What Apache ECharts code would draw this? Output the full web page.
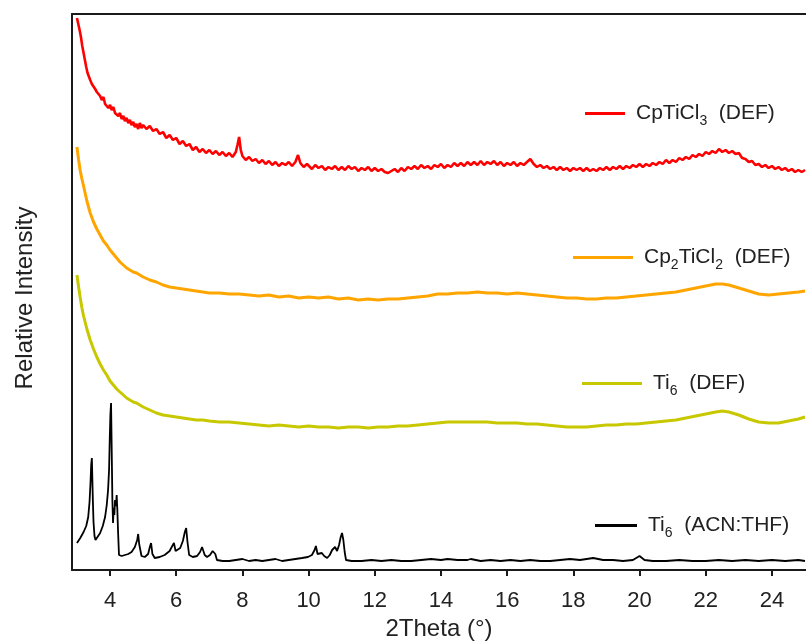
<!DOCTYPE html>
<html>
<head>
<meta charset="utf-8">
<script src="https://cdn.jsdelivr.net/npm/echarts@6/dist/echarts.min.js"></script>
<style>
html,body{margin:0;padding:0;background:#fff;}
#chart{width:806px;height:641px;}
</style>
</head>
<body>
<div id="chart"></div>
<script>
// Data (x = 2Theta, y = relative intensity in arbitrary offset units)
const xTicks = [4, 6, 8, 10, 12, 14, 16, 18, 20, 22, 24];
const seriesNames = ['CpTiCl3 (DEF)', 'Cp2TiCl2 (DEF)', 'Ti6 (DEF)', 'Ti6 (ACN:THF)'];

const redData = [
[3.00,552],[3.04,546],[3.08,540],[3.12,533],[3.16,524],[3.20,517],[3.24,510],[3.28,503],[3.32,497],[3.36,499],
[3.40,490],[3.45,486],[3.50,484],[3.55,481],[3.60,478],[3.65,480],[3.70,474],[3.75,470],[3.80,473],[3.85,466],
[3.90,468],[3.95,462],[4.00,465],[4.05,460],[4.10,463],[4.15,457],[4.20,459],[4.25,454],[4.30,457],[4.35,451],
[4.40,454],[4.45,449],[4.50,452],[4.55,447],[4.60,450],[4.65,445],[4.70,448],[4.75,443],[4.80,446],[4.85,441],
[4.90,447],[4.95,442],[5.00,445],[5.10,441],[5.20,444],[5.30,439],[5.40,441],[5.50,436],[5.60,438],[5.70,432],
[5.80,435],[5.90,430],[6.00,432],[6.10,426],[6.20,429],[6.30,424],[6.40,426],[6.50,420],[6.60,423],[6.70,418],
[6.80,421],[6.90,417],[7.00,420],[7.10,416],[7.20,419],[7.30,415],[7.40,418],[7.50,414],[7.60,417],[7.70,413],
[7.80,418],[7.85,425],[7.90,433],[7.95,420],[8.00,414],[8.10,410],[8.20,413],[8.30,409],[8.40,411],[8.50,407],
[8.60,410],[8.70,406],[8.80,409],[8.90,405],[9.00,408],[9.10,404],[9.20,407],[9.30,405],[9.40,408],[9.50,404],
[9.60,408],[9.68,415],[9.75,407],[9.85,403],[9.95,406],
[10.0,404],[10.1,401],[10.2,405],[10.3,402],[10.4,404],[10.5,400],[10.6,403],[10.7,401],[10.8,404],[10.9,400],
[11.0,403],[11.1,400],[11.2,404],[11.3,401],[11.4,403],[11.5,399],[11.6,402],[11.7,400],[11.8,403],[11.9,399],
[12.0,402],[12.1,399],[12.2,401],[12.3,398],[12.4,397],[12.45,395],[12.5,399],[12.6,401],[12.7,398],[12.8,402],
[12.9,399],[13.0,403],[13.1,401],[13.2,404],[13.3,401],[13.4,405],[13.5,402],[13.6,404],[13.7,401],[13.8,405],
[13.9,403],[14.0,406],[14.1,402],[14.2,405],[14.3,403],[14.4,407],[14.5,404],[14.6,407],[14.7,404],[14.8,408],
[14.9,405],[15.0,408],[15.1,405],[15.2,409],[15.3,405],[15.4,408],[15.5,406],[15.6,409],[15.7,405],[15.8,408],
[15.9,404],[16.0,407],[16.1,405],[16.2,408],[16.3,404],[16.4,407],[16.5,405],[16.6,408],[16.7,411],[16.8,406],
[16.9,403],[17.0,405],[17.1,402],[17.2,404],[17.3,401],[17.4,403],[17.5,400],[17.6,403],[17.7,400],[17.8,402],
[17.9,399],[18.0,402],[18.1,400],[18.2,402],[18.3,399],[18.4,402],[18.5,399],[18.6,401],[18.7,399],[18.8,402],
[18.9,400],[19.0,403],[19.1,400],[19.2,403],[19.3,401],[19.4,404],[19.5,401],[19.6,404],[19.7,402],[19.8,405],
[19.9,403],[20.0,406],[20.1,403],[20.2,406],[20.3,404],[20.4,407],[20.5,405],[20.6,408],[20.7,406],[20.8,410],
[20.9,407],[21.0,410],[21.1,408],[21.2,412],[21.3,410],[21.4,413],[21.5,411],[21.6,415],[21.7,413],[21.8,416],
[21.9,414],[22.0,418],[22.1,416],[22.2,419],[22.3,417],[22.4,421],[22.5,418],[22.6,420],[22.7,417],[22.8,419],
[22.9,416],[23.0,417],[23.1,412],[23.2,411],[23.3,408],[23.4,409],[23.5,405],[23.6,406],[23.7,403],[23.8,405],
[23.9,402],[24.0,404],[24.1,401],[24.2,403],[24.3,400],[24.4,402],[24.5,399],[24.6,401],[24.7,398],[24.8,400],
[24.9,398],[25.0,400]
];

const orangeData = [
[3.00,423],[3.05,410],[3.10,399],[3.15,391],[3.20,384],[3.30,369],[3.40,357],[3.50,348],[3.60,341],[3.70,335],
[3.80,329],[3.90,325],[4.00,320],[4.10,316],[4.20,312],[4.30,308],[4.40,305],[4.50,302],[4.60,300],[4.70,298],
[4.80,297],[4.90,295],[5.00,293],[5.20,290],[5.40,288],[5.60,285],[5.80,283],[6.00,282],[6.20,281],[6.40,280],
[6.60,279],[6.80,278],[7.00,277],[7.30,277],[7.60,276],[7.90,276],[8.20,275],[8.50,274],[8.80,275],[9.10,273],
[9.40,274],[9.70,272],[10.0,273],[10.3,272],[10.6,273],[10.9,271],[11.2,272],[11.5,270],[11.8,271],[12.1,270],
[12.4,271],[12.7,271],[13.0,272],[13.3,273],[13.6,274],[13.9,276],[14.2,276],[14.5,277],[14.8,277],[15.1,278],
[15.4,277],[15.7,277],[16.0,276],[16.3,277],[16.6,276],[16.9,275],[17.2,274],[17.5,273],[17.8,272],[18.1,272],
[18.4,271],[18.7,271],[19.0,272],[19.3,272],[19.6,273],[19.9,274],[20.2,275],[20.5,276],[20.8,277],[21.1,278],
[21.4,280],[21.7,282],[22.0,284],[22.3,286],[22.5,286],[22.7,285],[23.0,282],[23.3,279],[23.6,276],[23.9,275],
[24.2,276],[24.5,277],[24.8,278],[25.0,279]
];

const yellowData = [
[3.00,295],[3.05,283],[3.10,272],[3.15,262],[3.20,254],[3.30,241],[3.40,230],[3.50,221],[3.60,213],[3.70,206],
[3.80,200],[3.90,195],[4.00,189],[4.10,185],[4.20,181],[4.30,178],[4.40,175],[4.50,172],[4.60,170],[4.70,168],
[4.80,167],[4.90,165],[5.00,163],[5.20,160],[5.40,157],[5.60,155],[5.80,154],[6.00,153],[6.20,152],[6.40,151],
[6.60,150],[6.80,150],[7.00,149],[7.30,148],[7.60,148],[7.90,147],[8.20,146],[8.50,145],[8.80,144],[9.10,145],
[9.40,144],[9.70,143],[10.0,144],[10.3,143],[10.6,143],[10.9,142],[11.2,143],[11.5,143],[11.8,142],[12.1,143],
[12.4,143],[12.7,144],[13.0,144],[13.3,145],[13.6,146],[13.9,147],[14.2,148],[14.5,148],[14.8,148],[15.1,148],
[15.4,148],[15.7,147],[16.0,147],[16.3,147],[16.6,146],[16.9,146],[17.2,145],[17.5,144],[17.8,143],[18.1,143],
[18.4,143],[18.7,144],[19.0,145],[19.3,145],[19.6,146],[19.9,146],[20.2,147],[20.5,148],[20.8,149],[21.1,150],
[21.4,152],[21.7,154],[22.0,156],[22.3,158],[22.5,159],[22.7,158],[23.0,155],[23.3,151],[23.6,148],[23.9,147],
[24.2,147],[24.5,149],[24.8,151],[25.0,153]
];

const blackData = [
[3.00,27],[3.10,32],[3.20,38],[3.28,44],[3.34,53],[3.38,68],[3.41,88],[3.43,105],[3.45,112],[3.46,98],
[3.48,70],[3.50,48],[3.53,34],[3.56,30],[3.62,32],[3.70,37],[3.78,44],[3.85,53],[3.90,65],[3.94,80],
[3.97,100],[3.99,130],[4.01,155],[4.03,167],[4.05,120],[4.07,70],[4.09,47],[4.11,62],[4.13,55],[4.15,70],
[4.18,64],[4.20,75],[4.22,60],[4.24,40],[4.27,15],[4.35,14],[4.45,15],[4.55,16],[4.65,18],[4.75,23],
[4.82,30],[4.85,36],[4.88,26],[4.95,14],[5.05,13],[5.15,16],[5.21,24],[5.24,27],[5.28,16],[5.35,12],
[5.50,13],[5.65,15],[5.80,19],[5.88,24],[5.93,27],[5.98,19],[6.03,17],[6.12,22],[6.20,29],[6.26,38],
[6.30,42],[6.34,28],[6.39,15],[6.50,13],[6.63,14],[6.72,18],[6.78,23],[6.81,23],[6.86,15],[6.93,13],
[7.02,15],[7.10,19],[7.14,21],[7.18,16],[7.23,10],[7.40,9],[7.60,9],[7.80,10],[8.00,11],[8.20,9],
[8.40,10],[8.60,9],[8.80,10],[9.00,11],[9.20,9],[9.40,10],[9.60,11],[9.80,12],[9.98,13],[10.10,15],
[10.18,20],[10.22,24],[10.27,16],[10.33,14],[10.40,17],[10.47,14],[10.56,12],[10.64,15],[10.71,20],[10.76,22],
[10.80,23],[10.86,19],[10.92,25],[10.97,33],[11.01,37],[11.05,30],[11.09,18],[11.13,10],[11.3,9],[11.6,9],
[11.9,10],[12.2,9],[12.5,10],[12.8,9],[13.1,9],[13.4,10],[13.7,11],[14.0,10],[14.2,11],[14.5,10],
[14.8,10],[14.9,11],[15.2,9],[15.5,10],[15.8,9],[16.1,10],[16.4,9],[16.7,10],[17.0,9],[17.3,9],
[17.6,10],[17.9,11],[18.2,10],[18.6,12],[18.9,10],[19.2,10],[19.5,9],[19.8,10],[20.0,14],[20.15,10],
[20.4,9],[20.8,9],[21.2,10],[21.6,9],[22.0,9],[22.4,10],[22.8,9],[23.2,10],[23.6,9],[24.0,10],
[24.4,9],[24.8,10],[25.0,9]
];

const FONT = '"Liberation Sans", Arial, Helvetica, sans-serif';
const TXT = '#222';
const AX = '#1a1a1a';

const richStyles = {
  f: {fontSize: 21, fontFamily: FONT, color: TXT, lineHeight: 30, padding: [0, 0, 0, 6]},
  a: {fontSize: 21, fontFamily: FONT, color: TXT, lineHeight: 30},
  s: {fontSize: 14, fontFamily: FONT, color: TXT, lineHeight: 14, verticalAlign: 'bottom'}
};
const legendLabels = {
  'CpTiCl3 (DEF)': '{f|CpTiCl}{s|3}{a|  (DEF)}',
  'Cp2TiCl2 (DEF)': '{f|Cp}{s|2}{a|TiCl}{s|2}{a|  (DEF)}',
  'Ti6 (DEF)': '{f|Ti}{s|6}{a|  (DEF)}',
  'Ti6 (ACN:THF)': '{f|Ti}{s|6}{a|  (ACN:THF)}'
};
function mkLegend(name, left, top, w) {
  return {
    data: [name], left: left, top: top, padding: 0, orient: 'horizontal',
    icon: 'rect', itemWidth: w, itemHeight: 3, selectedMode: false,
    formatter: function (n) { return legendLabels[n]; },
    textStyle: {fontSize: 21, fontFamily: FONT, color: TXT, rich: richStyles}
  };
}

const chart = echarts.init(document.getElementById('chart'), null, {renderer: 'canvas'});
const xMin = 2.85, xMax = 25.03;
chart.setOption({
  animation: false,
  backgroundColor: '#fff',
  grid: {left: 72, right: 0, top: 14, bottom: 71, containLabel: false, outerBoundsMode: 'none'},
  legend: [
    mkLegend(seriesNames[0], 585, 103, 40),
    mkLegend(seriesNames[1], 573, 247, 60),
    mkLegend(seriesNames[2], 582, 373, 60),
    mkLegend(seriesNames[3], 595, 515, 42)
  ],
  xAxis: [{
    type: 'value', min: xMin, max: xMax, position: 'bottom',
    name: '2Theta (°)', nameLocation: 'middle', nameGap: 47,
    nameTextStyle: {fontSize: 24, fontFamily: FONT, color: TXT},
    axisLine: {show: true, onZero: false, lineStyle: {color: AX, width: 2}},
    axisTick: {show: true, inside: false, length: 6, customValues: xTicks, lineStyle: {color: AX, width: 2}},
    axisLabel: {show: true, margin: 20, fontSize: 22, fontFamily: FONT, color: TXT, customValues: xTicks},
    splitLine: {show: false}
  }, {
    type: 'value', min: xMin, max: xMax, position: 'top',
    axisLine: {show: true, onZero: false, lineStyle: {color: AX, width: 2}},
    axisTick: {show: false}, axisLabel: {show: false}, splitLine: {show: false}
  }],
  yAxis: {
    type: 'value', min: 0, max: 556,
    name: 'Relative Intensity', nameLocation: 'middle', nameGap: 35, nameRotate: 90,
    nameTextStyle: {fontSize: 24, fontFamily: FONT, color: TXT, padding: [0, 12, 0, 0]},
    axisLine: {show: true, onZero: false, lineStyle: {color: AX, width: 2}},
    axisTick: {show: false}, axisLabel: {show: false}, splitLine: {show: false}
  },
  series: [
    {name: seriesNames[0], type: 'line', data: redData, symbol: 'none', color: '#ff0000', lineStyle: {width: 2.6, color: '#ff0000'}},
    {name: seriesNames[1], type: 'line', data: orangeData, symbol: 'none', color: '#ffa500', lineStyle: {width: 3, color: '#ffa500'}},
    {name: seriesNames[2], type: 'line', data: yellowData, symbol: 'none', color: '#c8c800', lineStyle: {width: 3, color: '#c8c800'}},
    {name: seriesNames[3], type: 'line', data: blackData, symbol: 'none', color: '#000000', lineStyle: {width: 1.8, color: '#000000'}}
  ]
});
</script>
</body>
</html>
